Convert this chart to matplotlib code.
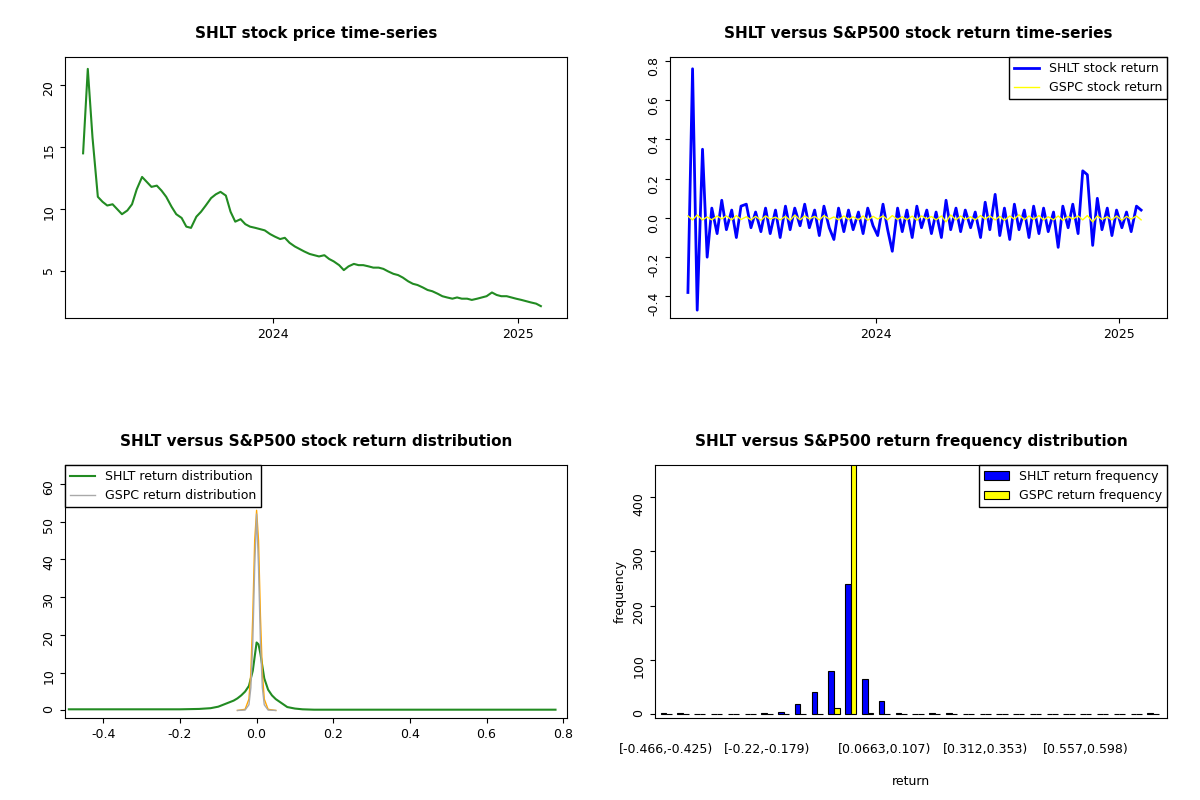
import numpy as np
import matplotlib
matplotlib.use("Agg")
import matplotlib.pyplot as plt
import matplotlib.dates as mdates
import datetime as dt

# weekly price values
price = [14.5,21.3,15.8,11.0,10.6,10.3,10.4,10.0,9.6,9.9,10.4,11.6,12.6,12.2,11.8,11.9,11.5,11.0,10.2,9.6,9.3,8.6,8.5,9.4,9.8,10.3,10.9,11.2,11.4,11.1,9.8,9.0,9.2,8.8,8.6,8.5,8.4,8.3,8.0,7.8,7.6,7.7,7.3,7.0,6.8,6.6,6.4,6.3,6.2,6.3,6.0,5.8,5.5,5.1,5.4,5.6,5.5,5.5,5.4,5.3,5.3,5.2,5.0,4.8,4.7,4.5,4.2,4.0,3.9,3.7,3.5,3.4,3.2,3.0,2.9,2.8,2.9,2.8,2.8,2.7,2.8,2.9,3.0,3.3,3.1,3.0,3.0,2.9,2.8,2.7,2.6,2.5,2.4,2.2]
shlt_ret = [-0.38,0.76,-0.47,0.35,-0.20,0.05,-0.08,0.09,-0.06,0.04,-0.10,0.06,0.07,-0.05,0.03,-0.07,0.05,-0.08,0.04,-0.10,0.06,-0.06,0.05,-0.04,0.07,-0.05,0.04,-0.09,0.06,-0.05,-0.11,0.05,-0.07,0.04,-0.06,0.03,-0.08,0.05,-0.04,-0.09,0.07,-0.06,-0.17,0.05,-0.07,0.04,-0.10,0.06,-0.05,0.04,-0.08,0.03,-0.10,0.09,-0.06,0.05,-0.07,0.04,-0.05,0.03,-0.10,0.08,-0.06,0.12,-0.09,0.05,-0.11,0.07,-0.06,0.04,-0.10,0.06,-0.08,0.05,-0.07,0.03,-0.15,0.06,-0.05,0.07,-0.08,0.24,0.22,-0.14,0.10,-0.06,0.05,-0.09,0.04,-0.05,0.03,-0.07,0.06,0.04]
gspc_ret = [0.01,-0.01,0.015,-0.01,0.005,-0.01,0.01,-0.005,0.01,-0.01,0.012,-0.008,0.006,-0.01,0.008,-0.012,0.01,-0.006,0.004,-0.01,0.008,-0.012,0.014,-0.01,0.01,-0.005,0.008,-0.01,0.012,-0.006,0.005,-0.01,0.01,-0.008,0.006,-0.01,0.01,-0.012,0.008,-0.006,0.01,-0.01,0.012,-0.008,0.006,-0.01,0.009,-0.012,0.01,-0.005,0.007,-0.01,0.01,-0.02,0.015,-0.01,0.01,-0.008,0.006,-0.01,0.012,-0.006,0.01,-0.01,0.008,-0.012,0.01,-0.006,0.016,-0.01,0.01,-0.008,0.012,-0.01,0.006,-0.01,0.01,-0.012,0.008,-0.006,0.01,-0.01,0.012,-0.02,0.01,-0.008,0.006,-0.01,0.01,-0.012,0.008,-0.006,0.01,-0.01]

dens_x = [-0.49,-0.3,-0.2,-0.15,-0.12,-0.1,-0.08,-0.06,-0.05,-0.04,-0.03,-0.02,-0.01,0.0,0.005,0.01,0.02,0.03,0.04,0.05,0.06,0.07,0.08,0.1,0.12,0.15,0.3,0.5,0.7,0.78]
shlt_dens = [0.3,0.3,0.3,0.4,0.6,1.0,1.8,2.6,3.2,4.0,5.0,6.5,10.5,18.0,17.5,15.0,8.5,5.5,4.0,3.0,2.3,1.6,0.9,0.5,0.3,0.2,0.2,0.2,0.2,0.2]
gspc_x = [-0.05,-0.03,-0.02,-0.015,-0.01,-0.005,0.0,0.005,0.01,0.015,0.02,0.03,0.05]
gspc_dens = [0,0.3,3,10,25,45,53,45,25,10,3,0.3,0]
gspc_dens2 = [0,0.1,1.5,6,18,38,52,38,18,6,1.5,0.1,0]

bin_labels = ["[-0.466,-0.425)","[-0.22,-0.179)","[0.0663,0.107)","[0.312,0.353)","[0.557,0.598)"]
bin_label_idx = [0,6,13,19,25]
shlt_freq = [2,2,0,0,0,0,1,3,17,40,79,239,64,24,2,0,2,2,0,0,0,0,0,0,0,0,0,0,0,1]
gspc_freq = [0,0,0,0,0,0,0,0,0,0,11,468,1,0,0,0,0,0,0,0,0,0,0,0,0,0,0,0,0,0]

start = dt.date(2023,3,24)
dates = [start + dt.timedelta(days=7.35*i) for i in range(len(price))]
rdates = [start + dt.timedelta(days=7.35*i) for i in range(len(shlt_ret))]

fig = plt.figure(figsize=(12,8), dpi=100)
W,H = 1200,800
def ax_px(l,t,r,b):
    return fig.add_axes([l/W, 1-b/H, (r-l)/W, (b-t)/H])

def style(ax):
    for s in ax.spines.values():
        s.set_color("black")
    ax.tick_params(labelsize=9)

tfs = dict(fontsize=11, fontweight="bold")
yrs = [dt.date(2024,1,1), dt.date(2025,1,1)]
xl = (dt.date(2023,2,25), dt.date(2025,3,15))

ax1 = ax_px(65,57,567,318); style(ax1)
ax1.plot(dates, price, color="forestgreen", lw=1.5)
ax1.set_xlim(*xl)
ax1.set_xticks(yrs); ax1.xaxis.set_major_formatter(mdates.DateFormatter("%Y"))
ax1.set_yticks([5,10,15,20]); ax1.tick_params(axis="y", labelrotation=90)
ax1.set_title("SHLT stock price time-series", pad=14, **tfs)

ax2 = ax_px(670,57,1167,318); style(ax2)
ax2.plot(rdates, shlt_ret, color="blue", lw=2, label="SHLT stock return")
ax2.plot(rdates, gspc_ret, color="yellow", lw=1, label="GSPC stock return")
ax2.set_xlim(*xl)
ax2.set_xticks(yrs); ax2.xaxis.set_major_formatter(mdates.DateFormatter("%Y"))
ax2.set_yticks(np.arange(-0.4,0.81,0.2)); ax2.set_yticklabels(["-0.4","-0.2","0.0","0.2","0.4","0.6","0.8"])
ax2.tick_params(axis="y", labelrotation=90)
ax2.set_ylim(-0.51,0.82)
ax2.legend(loc="upper right", fontsize=9, fancybox=False, edgecolor="black", framealpha=1, borderaxespad=0)
ax2.set_title("SHLT versus S&P500 stock return time-series", pad=14, **tfs)

ax3 = ax_px(65,465,567,718); style(ax3)
ax3.plot(dens_x, shlt_dens, color="forestgreen", lw=1.5, label="SHLT return distribution")
ax3.plot(gspc_x, gspc_dens, color="orange", lw=1)
ax3.plot(gspc_x, gspc_dens2, color="darkgray", lw=1, label="GSPC return distribution")
ax3.set_xlim(-0.5,0.81); ax3.set_ylim(-2,65)
ax3.set_yticks([0,10,20,30,40,50,60]); ax3.tick_params(axis="y", labelrotation=90)
ax3.set_xticks(np.arange(-0.4,0.81,0.2)); ax3.set_xticklabels(["-0.4","-0.2","0.0","0.2","0.4","0.6","0.8"])
ax3.legend(loc="upper left", fontsize=9, fancybox=False, edgecolor="black", framealpha=1, borderaxespad=0)
ax3.set_title("SHLT versus S&P500 stock return distribution", pad=14, **tfs)

ax4 = ax_px(655,465,1167,718); style(ax4)
n = len(shlt_freq)
idx = np.arange(n)*3+1.5
ax4.bar(idx, shlt_freq, width=1, color="blue", edgecolor="black", lw=0.8, label="SHLT return frequency")
ax4.bar(idx+1, gspc_freq, width=1, color="yellow", edgecolor="black", lw=0.8, label="GSPC return frequency")
ax4.set_xlim(0, n*3+1.5); ax4.set_ylim(-8,460)
ax4.set_xticks([idx[i]+0.5 for i in bin_label_idx]); ax4.set_xticklabels(bin_labels)
ax4.tick_params(axis="x", length=0, pad=18)
ax4.set_yticks([0,100,200,300,400]); ax4.tick_params(axis="y", labelrotation=90)
ax4.set_xlabel("return", fontsize=9, labelpad=14); ax4.set_ylabel("frequency", fontsize=9)
ax4.legend(loc="upper right", fontsize=9, fancybox=False, edgecolor="black", framealpha=1, borderaxespad=0)
ax4.set_title("SHLT versus S&P500 return frequency distribution", pad=14, **tfs)

fig.savefig("out.png", dpi=100)
